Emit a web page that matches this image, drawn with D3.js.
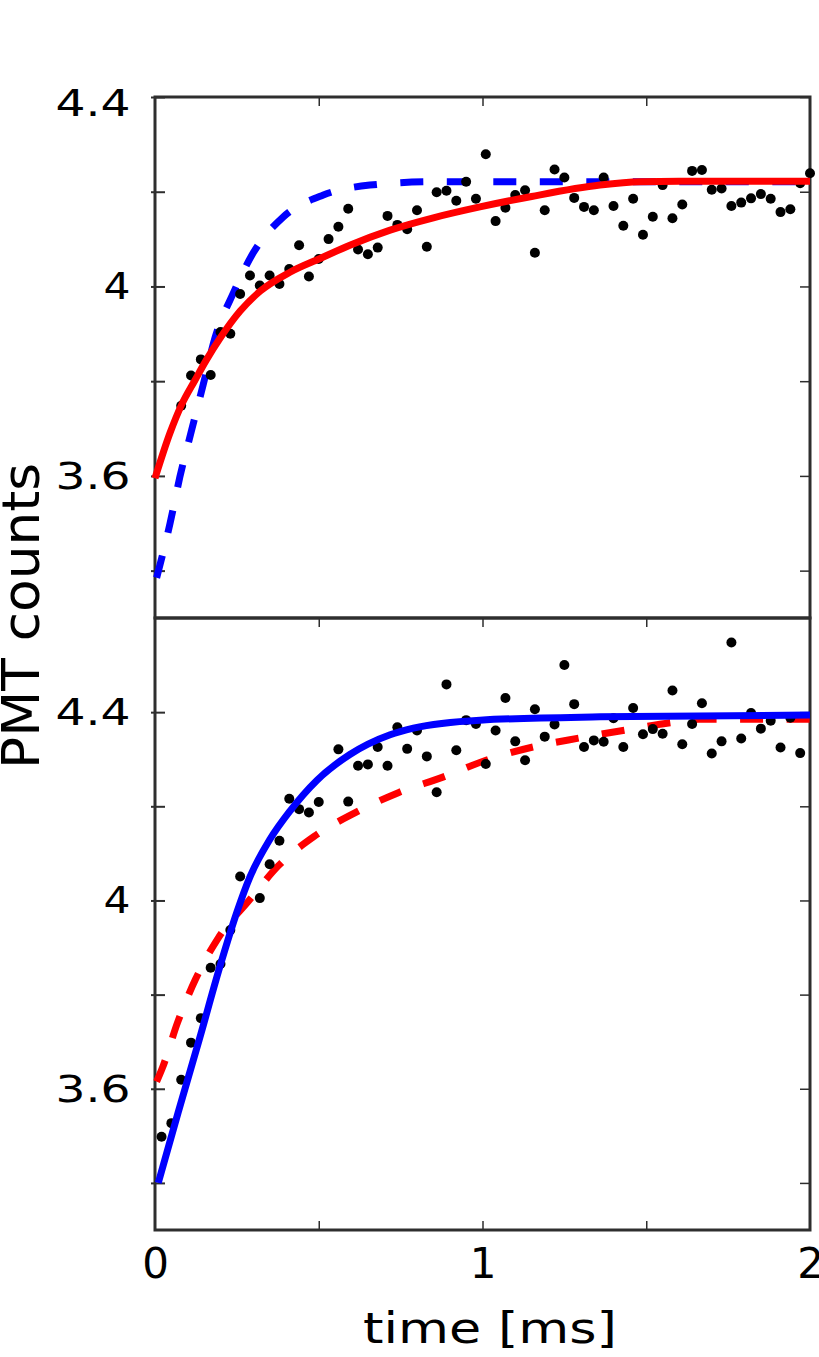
<!DOCTYPE html>
<html>
<head>
<meta charset="utf-8">
<script src="https://cdn.jsdelivr.net/npm/d3@7/dist/d3.min.js"></script>
<style>
  html, body { margin: 0; padding: 0; background: #fff; }
  svg { display: block; }
  text { font-family: "DejaVu Sans", sans-serif; fill: #000; }
</style>
</head>
<body>
<svg id="chart" width="819" height="1357"></svg>
<script>
// ---------- data ----------
const times = [0.02,0.05,0.08,0.11,0.14,0.17,0.20,0.23,0.26,0.29,0.32,0.35,0.38,0.41,0.44,0.47,0.50,0.53,0.56,0.59,
  0.62,0.65,0.68,0.71,0.74,0.77,0.80,0.83,0.86,0.89,0.92,0.95,0.98,1.01,1.04,1.07,1.10,1.13,1.16,1.19,
  1.22,1.25,1.28,1.31,1.34,1.37,1.40,1.43,1.46,1.49,1.52,1.55,1.58,1.61,1.64,1.67,1.70,1.73,1.76,1.79,
  1.82,1.85,1.88,1.91,1.94,1.97,2.00];

const topCounts = [null,null,3.748,3.812,3.846,3.813,3.904,3.900,3.984,4.023,4.002,4.023,4.005,4.037,4.087,4.021,4.058,4.100,4.126,4.164,
  4.078,4.068,4.082,4.149,4.130,4.121,4.161,4.084,4.199,4.202,4.181,4.221,4.185,4.279,4.138,4.166,4.193,4.203,4.071,4.161,
  4.247,4.230,4.187,4.168,4.161,4.230,4.170,4.128,4.185,4.109,4.147,4.214,4.144,4.173,4.244,4.246,4.204,4.207,4.170,4.177,
  4.186,4.195,4.185,4.157,4.163,4.218,4.239];

const bottomCounts = [3.498,3.527,3.619,3.698,3.750,3.857,3.865,3.937,4.051,null,4.005,4.077,4.127,4.216,4.194,4.187,4.209,null,4.321,4.210,
  4.286,4.289,4.326,4.286,4.368,4.322,4.361,4.306,4.230,4.459,4.319,4.383,4.375,4.290,4.361,4.430,4.338,4.298,4.406,4.348,
  4.374,4.500,4.417,4.326,4.340,4.337,4.387,4.326,4.409,4.353,4.364,4.354,4.446,4.332,4.375,4.419,4.312,4.338,4.548,4.344,
  4.398,4.365,4.382,4.325,4.388,4.313,null];

// top panel fits
const topSolidT = [0,0.046,0.081,0.122,0.157,0.198,0.26,0.321,0.412,0.504,0.595,0.718,0.85,0.992,1.15,1.359,1.481,1.6,2.0];
const topSolidV = [3.595,3.691,3.750,3.802,3.845,3.890,3.948,3.990,4.030,4.059,4.087,4.119,4.145,4.168,4.190,4.214,4.221,4.222,4.222];
const topDashT = [0.005,0.046,0.076,0.112,0.147,0.183,0.239,0.300,0.392,0.514,0.656,0.85,2.0];
const topDashV = [3.385,3.500,3.598,3.697,3.792,3.891,3.986,4.071,4.147,4.193,4.214,4.221,4.221];

// bottom panel fits
const botSolidT = [0.01,0.07,0.135,0.198,0.25,0.29,0.351,0.412,0.494,0.595,0.718,0.789,0.992,1.359,2.0];
const botSolidV = [3.400,3.548,3.704,3.859,3.975,4.050,4.130,4.190,4.255,4.310,4.352,4.366,4.383,4.390,4.394];
const botDashT = [0.005,0.023,0.069,0.124,0.193,0.287,0.377,0.486,0.613,0.743,0.879,1.015,1.154,1.295,1.436,1.579,1.66,2.0];
const botDashV = [3.615,3.645,3.741,3.833,3.920,4.000,4.074,4.136,4.187,4.229,4.262,4.299,4.326,4.345,4.362,4.378,4.385,4.385];

// ticks
const xMajorTicks = [0, 1, 2];
const xMinorTicks = [0.5, 1, 1.5];
const yLabelTicks = [3.6, 4.0, 4.4];
const yAllTicks = [3.4, 3.6, 3.8, 4.0, 4.2, 4.4];
const xTitle = "time [ms]";
const yTitle = "PMT counts";

// ---------- chart ----------
const svg = d3.select("#chart");
svg.append("rect").attr("width", 819).attr("height", 1357).attr("fill", "#fff");

const x = d3.scaleLinear().domain([0, 2]).range([155, 810]);
const yTop = d3.scaleLinear().domain([3.3, 4.4]).range([618, 97]);
const yBot = d3.scaleLinear().domain([3.3, 4.6]).range([1230, 618]);

const RED = "#ff0000", BLUE = "#0000ff", FRAME = "#2e2e2e";

const panels = [
  { y: yTop, counts: topCounts, solidT: topSolidT, solidV: topSolidV, solidColor: RED,
    dashT: topDashT, dashV: topDashV, dashColor: BLUE, bottomAxis: false, topLabelShift: 6 },
  { y: yBot, counts: bottomCounts, solidT: botSolidT, solidV: botSolidV, solidColor: BLUE,
    dashT: botDashT, dashV: botDashV, dashColor: RED, bottomAxis: true, topLabelShift: 0 }
];

const fmt = d3.format("~g");

panels.forEach(p => {
  const y = p.y;
  const g = svg.append("g");
  const [y0, y1] = y.range(); // bottom, top
  const [x0, x1] = x.range();

  // frame
  g.append("rect")
    .attr("x", x0).attr("y", y1)
    .attr("width", x1 - x0).attr("height", y0 - y1)
    .attr("fill", "none").attr("stroke", FRAME).attr("stroke-width", 3);

  // y ticks left
  g.append("g").attr("transform", `translate(${x0},0)`)
    .call(d3.axisLeft(y).tickValues(yAllTicks).tickSizeInner(-10).tickSizeOuter(0).tickFormat(""))
    .call(a => a.select(".domain").remove())
    .selectAll("line").attr("x1", -4).attr("stroke", FRAME).attr("stroke-width", 2);
  // y ticks right
  g.append("g").attr("transform", `translate(${x1},0)`)
    .call(d3.axisRight(y).tickValues(yAllTicks).tickSizeInner(-10).tickSizeOuter(0).tickFormat(""))
    .call(a => a.select(".domain").remove())
    .selectAll("line").attr("stroke", FRAME).attr("stroke-width", 1.5);
  // x ticks top
  g.append("g").attr("transform", `translate(0,${y1})`)
    .call(d3.axisTop(x).tickValues(xMinorTicks).tickSizeInner(-9).tickSizeOuter(0).tickFormat(""))
    .call(a => a.select(".domain").remove())
    .selectAll("line").attr("stroke", FRAME).attr("stroke-width", 1.5);
  if (p.bottomAxis) {
    g.append("g").attr("transform", `translate(0,${y0})`)
      .call(d3.axisBottom(x).tickValues(xMinorTicks).tickSizeInner(-9).tickSizeOuter(0).tickFormat(""))
      .call(a => a.select(".domain").remove())
      .selectAll("line").attr("stroke", FRAME).attr("stroke-width", 1.5);
  }

  // y tick labels
  const lab = g.append("g").attr("transform", `translate(130.5,0)`)
    .call(d3.axisLeft(y).tickValues(yLabelTicks).tickSize(0).tickPadding(0).tickFormat(fmt));
  lab.select(".domain").remove();
  lab.selectAll("text")
    .attr("font-size", 37)
    .attr("font-family", "DejaVu Sans")
    .attr("fill", "#000")
    .attr("x", 0)
    .attr("dy", d => (d === y.domain()[1] ? p.topLabelShift : 0) + 12.5)
    .attr("textLength", d => fmt(d).length > 1 ? 75 : 27)
    .attr("lengthAdjust", "spacingAndGlyphs");

  // dashed fit (under points)
  const line = d3.line().x(d => x(d[0])).y(d => y(d[1])).curve(d3.curveMonotoneX);
  g.append("path")
    .datum(p.dashT.map((t, i) => [t, p.dashV[i]]))
    .attr("d", line)
    .attr("fill", "none").attr("stroke", p.dashColor).attr("stroke-width", 7)
    .attr("stroke-dasharray", "23,23.5");

  // data points
  g.append("g").selectAll("circle")
    .data(times.map((t, i) => [t, p.counts[i]]).filter(d => d[1] !== null))
    .join("circle")
    .attr("cx", d => x(d[0])).attr("cy", d => y(d[1])).attr("r", 5)
    .attr("fill", "#000");

  // solid fit (over points)
  g.append("path")
    .datum(p.solidT.map((t, i) => [t, p.solidV[i]]))
    .attr("d", line)
    .attr("fill", "none").attr("stroke", p.solidColor).attr("stroke-width", 7);
});

// x tick labels
const xl = svg.append("g").attr("transform", "translate(0,1278)")
  .call(d3.axisBottom(x).tickValues(xMajorTicks).tickSize(0).tickPadding(0).tickFormat(fmt));
xl.select(".domain").remove();
xl.selectAll("text").attr("y", 0).attr("dy", 0)
  .attr("font-size", 42).attr("font-family", "DejaVu Sans").attr("fill", "#000");

// axis titles
svg.append("text")
  .attr("x", 490).attr("y", 1343)
  .attr("text-anchor", "middle")
  .attr("font-size", 43)
  .attr("textLength", 254).attr("lengthAdjust", "spacingAndGlyphs")
  .text(xTitle);

svg.append("text")
  .attr("transform", "translate(39,616) rotate(-90)")
  .attr("text-anchor", "middle")
  .attr("font-size", 52)
  .attr("textLength", 306).attr("lengthAdjust", "spacingAndGlyphs")
  .text(yTitle);
</script>
</body>
</html>
